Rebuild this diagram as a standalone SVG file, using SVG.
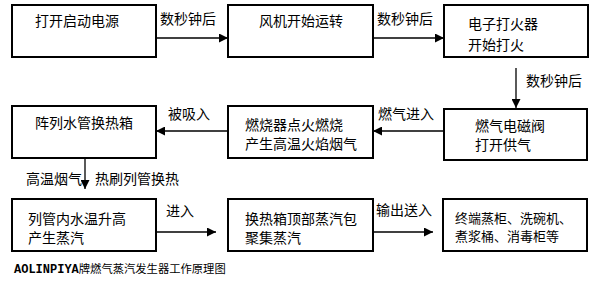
<svg xmlns="http://www.w3.org/2000/svg" width="605" height="291" viewBox="0 0 605 291">
<defs>
<marker id="ah" viewBox="0 0 10 10" refX="10" refY="5" markerWidth="9" markerHeight="9" markerUnits="userSpaceOnUse" orient="auto">
<path d="M0,0 L10,5 L0,10 z" fill="#000"/>
</marker>
</defs>
<style>
.box{fill:#fff;stroke:#000;stroke-width:2}
.t{font-family:"Noto Sans CJK SC","Noto Sans",sans-serif;font-size:14px;fill:#000}
.s{font-size:13px}
.c{stroke:#000;stroke-width:1.3;fill:none;marker-end:url(#ah)}
.cap{font-family:"Noto Sans CJK SC",sans-serif;font-size:11.3px;fill:#000}
.mono{font-family:"Liberation Mono",monospace;font-size:12px;font-weight:bold}
</style>
<rect width="605" height="291" fill="#fff"/>
<g id="connectors">
<line class="c" x1="156" y1="38" x2="228" y2="38"/>
<line class="c" x1="373" y1="38" x2="444" y2="38"/>
<line class="c" x1="516" y1="68" x2="516" y2="108"/>
<line class="c" x1="444" y1="131" x2="373" y2="131"/>
<line class="c" x1="228" y1="131" x2="156" y2="131"/>
<line class="c" x1="85" y1="158" x2="85" y2="189"/>
<line class="c" x1="156" y1="232" x2="216" y2="232"/>
<line class="c" x1="373" y1="232" x2="433" y2="232"/>
<text class="t" x="160" y="24">数秒钟后</text>
<text class="t" x="377" y="24">数秒钟后</text>
<text class="t" x="526" y="86">数秒钟后</text>
<text class="t" x="378" y="119">燃气进入</text>
<text class="t" x="168" y="119">被吸入</text>
<text class="t" x="26" y="184">高温烟气</text>
<text class="t" x="95" y="184">热刷列管换热</text>
<text class="t" x="166" y="216">进入</text>
<text class="t" x="376" y="215">输出送入</text>
</g>
<g id="n1"><rect class="box" x="12" y="5" width="144" height="52"/><text class="t" x="35" y="26">打开启动电源</text></g>
<g id="n2"><rect class="box" x="228" y="5" width="145" height="52"/><text class="t" x="259" y="26">风机开始运转</text></g>
<g id="n3"><rect class="box" x="444" y="5" width="144" height="52"/><text class="t" x="468" y="29">电子打火器</text><text class="t" x="468" y="50">开始打火</text></g>
<g id="n4"><rect class="box" x="444" y="109" width="143" height="51"/><text class="t" x="475" y="131">燃气电磁阀</text><text class="t" x="475" y="150">打开供气</text></g>
<g id="n5"><rect class="box" x="228" y="106" width="145" height="52"/><text class="t" x="245" y="130">燃烧器点火燃烧</text><text class="t" x="245" y="149">产生高温火焰烟气</text></g>
<g id="n6"><rect class="box" x="12" y="106" width="144" height="52"/><text class="t" x="35" y="128">阵列水管换热箱</text></g>
<g id="n7"><rect class="box" x="12" y="199" width="144" height="52"/><text class="t" x="28" y="224">列管内水温升高</text><text class="t" x="28" y="243">产生蒸汽</text></g>
<g id="n8"><rect class="box" x="228" y="199" width="145" height="52"/><text class="t" x="245" y="224">换热箱顶部蒸汽包</text><text class="t" x="245" y="243">聚集蒸汽</text></g>
<g id="n9"><rect class="box" x="443" y="199" width="144" height="52"/><text class="t s" x="455" y="223">终端蒸柜、洗碗机、</text><text class="t s" x="455" y="241">煮浆桶、消毒柜等</text></g>
<text class="cap" x="14" y="273"><tspan class="mono">AOLINPIYA</tspan>牌燃气蒸汽发生器工作原理图</text>
</svg>
